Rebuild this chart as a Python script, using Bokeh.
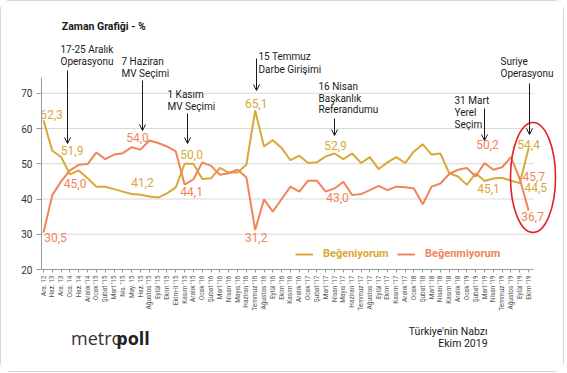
import math
from bokeh.plotting import figure
from bokeh.layouts import column
from bokeh.models import (FixedTicker, Arrow, OpenHead, Legend, LegendItem, Range1d)
from bokeh.embed import file_html
from bokeh.resources import INLINE
from bokeh.core.properties import value

# ---------------- data ----------------
months = ["Ara. 12", "Haz. 13", "Ara. 13", "Oca. 14", "Haz. 14", "Aralık '14", "Ocak '15",
          "Şubat '15", "Mart '15", "Nis. '15", "May. 15", "Haz. 15", "Ağustos '15", "Eylül '15",
          "Ekim '15", "Ekim-II '15", "Kasım '15", "Aralık '15", "Ocak '16", "Şubat '16",
          "Mart '16", "Nisan '16", "Mayıs '16", "Haziran '16", "Temmuz '16", "Ağustos '16",
          "Eylül '16", "Ekim '16", "Kasım '16", "Aralık '16", "Ocak '17", "Şubat '17", "Mart '17",
          "Nisan '17", "Mayıs '17", "Haziran '17", "Temmuz '17", "Ağustos '17", "Eylül '17",
          "Ekim '17", "Kasım '17", "Aralık '17", "Ocak '18", "Şubat '18", "Mart '18", "Nisan '18",
          "Kasım '18", "Aralık '18", "Ocak '19", "Şubat '19", "Mart '19", "Nisan '19",
          "Temmuz '19", "Ağustos '19", "Eylül '19", "Ekim '19"]

begeniyorum = [62.3, 53.7, 51.9, 47.0, 48.1, 45.9, 43.5, 43.5, 42.8, 42.1, 41.4, 41.2, 40.7, 40.4,
               41.6, 43.3, 50.0, 50.0, 45.7, 45.9, 48.8, 47.5, 47.5, 49.7, 65.1, 54.9, 56.7, 54.5,
               51.0, 52.3, 50.2, 50.4, 52.1, 52.9, 51.3, 52.9, 50.2, 51.9, 48.5, 50.4, 51.9, 50.2,
               53.5, 55.5, 52.6, 52.9, 47.3, 46.4, 44.0, 47.3, 45.1, 45.8, 46.0, 45.2, 44.5, 54.4]

begenmiyorum = [30.5, 41.1, 45.0, 48.1, 49.7, 49.9, 53.2, 51.3, 52.6, 53.0, 54.7, 54.0, 56.6, 55.9,
                54.9, 53.5, 44.1, 45.6, 50.4, 49.4, 46.9, 47.3, 48.3, 46.2, 31.2, 39.9, 36.4, 40.0,
                43.5, 42.1, 45.2, 45.2, 42.1, 43.0, 44.9, 41.1, 41.4, 42.5, 43.7, 42.5, 43.5, 43.3,
                43.0, 38.5, 43.5, 44.4, 47.1, 48.3, 48.8, 46.4, 50.2, 48.3, 49.0, 51.9, 45.7, 36.7]

gold_labeled = [0, 2, 11, 16, 24, 33, 50, 54, 55]
orange_labeled = [0, 2, 11, 16, 24, 33, 50, 54, 55]

events = [
    ["17-25 Aralık", "Operasyonu"],
    ["7 Haziran", "MV Seçimi"],
    ["1 Kasım", "MV Seçimi"],
    ["15 Temmuz", "Darbe Girişimi"],
    ["16 Nisan", "Başkanlık", "Referandumu"],
    ["31 Mart", "Yerel", "Seçim"],
    ["Suriye", "Operasyonu"],
]

y_ticks = [20, 30, 40, 50, 60, 70]

# ---------------- style / layout ----------------
GOLD = "#D8A935"
ORANGE = "#F0855A"
RED = "#E3202A"
FONT = "Roboto"

W = 562                     # inner width (1px card border around)
H_HEAD, H_MAIN, H_FOOT = 37, 284, 49
X0_PX, DX_PX = 43.0, 8.82      # page px of first category, px per category
Y20_PX, DY_PX = 269.0, 3.525   # page px of value 20, px per unit


def dx(px):
    return (px - X0_PX) / DX_PX


def dy(py):
    return 20 + (Y20_PX - py) / DY_PX


def blank(h):
    f = figure(width=W, height=h, output_backend="svg", toolbar_location=None, title=None,
               x_range=Range1d(0, W), y_range=Range1d(h, 0), x_axis_type=None,
               y_axis_type=None, min_border=0)
    f.outline_line_color = None
    f.xgrid.visible = False
    f.ygrid.visible = False
    return f


# ---------------- header ----------------
head = blank(H_HEAD)
head.text(x=[22], y=[25], text=["Zaman Grafiği - %"], text_font=value(FONT),
          text_font_size="10.5px", text_font_style="bold", text_color="#1a1a1a",
          text_align="left", text_baseline="middle")

# ---------------- main chart ----------------
idx = list(range(len(months)))

p = figure(width=W, height=H_MAIN, output_backend="svg", toolbar_location=None, title=None,
           x_range=Range1d(dx(41), dx(560)), y_range=Range1d(20, dy(38)),
           min_border_left=40, min_border_right=W - 559, min_border_top=0,
           min_border_bottom=H_MAIN - 231)
p.outline_line_color = None
p.xgrid.visible = False
p.ygrid.visible = False

for t in y_ticks[1:]:
    p.segment(x0=[dx(41)], y0=[t], x1=[dx(533)], y1=[t], line_color="#d9d9d9", line_width=1)

p.xaxis.ticker = FixedTicker(ticks=idx)
p.xaxis.major_label_overrides = {i: m for i, m in enumerate(months)}
p.xaxis.major_label_orientation = math.pi / 2
p.xaxis.major_label_text_font = FONT
p.xaxis.major_label_text_font_size = "6.5px"
p.xaxis.major_label_text_color = "#555555"
p.xaxis.major_label_standoff = 3
p.xaxis.major_tick_out = 3
p.xaxis.major_tick_in = 0
p.xaxis.minor_tick_line_color = None
p.xaxis.axis_line_color = "#9a9a9a"
p.xaxis.major_tick_line_color = "#9a9a9a"
p.xaxis.bounds = (dx(41), dx(533))

p.yaxis.ticker = FixedTicker(ticks=y_ticks)
p.yaxis.major_label_text_font = FONT
p.yaxis.major_label_text_font_size = "10px"
p.yaxis.major_label_text_color = "#333333"
p.yaxis.major_label_standoff = 4
p.yaxis.major_tick_out = 5
p.yaxis.major_tick_in = 0
p.yaxis.minor_tick_line_color = None
p.yaxis.axis_line_color = "#9a9a9a"
p.yaxis.major_tick_line_color = "#9a9a9a"
p.yaxis.bounds = (20, dy(77))

r_gold = p.line(idx, begeniyorum, line_color=GOLD, line_width=2)
r_orange = p.line(idx, begenmiyorum, line_color=ORANGE, line_width=2)

# value labels (pixel offsets from the point: right, down)
gold_off = {0: (8, -6), 2: (11, -7), 11: (2, -12), 16: (7, -9), 24: (1, -7),
            33: (1, -8), 50: (4, 7), 54: (16, 4), 55: (0, -4)}
orange_off = {0: (12, 5), 2: (14, 2), 11: (-3, -12), 16: (7, 7), 24: (1, 7),
              33: (3, 9), 50: (3, -19), 54: (14, -2), 55: (4, 6)}


def fmt(v):
    return ("%.1f" % v).replace(".", ",")


for series, labeled, offs, col in [(begeniyorum, gold_labeled, gold_off, GOLD),
                                    (begenmiyorum, orange_labeled, orange_off, ORANGE)]:
    xs, ys, ts = [], [], []
    for i in labeled:
        ox, oy = offs[i]
        xs.append(i + ox / DX_PX)
        ys.append(series[i] - oy / DY_PX)
        ts.append(fmt(series[i]))
    p.text(x=xs, y=ys, text=ts, text_color=col, text_font=value(FONT),
           text_font_size="12px", text_align="center", text_baseline="middle")

ev_text_pos = [(60, 48.5), (121, 61), (167, 94), (258, 56), (318, 86), (454, 100), (500, 61)]
ev_line_gap = [12.5, 11.5, 12, 13, 11.5, 12, 11.5]
ev_arrows = [(67, 70, 143), (142, 80, 130), (187, 113, 143), (256, 58, 90),
             (334, 118, 135), (484, 108, 140), (529, 83, 134)]
for lines, (tx, ty), gap, (ax, ay0, ay1) in zip(events, ev_text_pos, ev_line_gap, ev_arrows):
    xs = [dx(tx)] * len(lines)
    ys = [dy(ty + k * gap) for k in range(len(lines))]
    p.text(x=xs, y=ys, text=lines, text_color="#1a1a1a", text_font=value(FONT),
           text_font_size="10px", text_align="left", text_baseline="middle")
    p.add_layout(Arrow(end=OpenHead(size=6, line_width=1, line_color="#1a1a1a"),
                       x_start=dx(ax), y_start=dy(ay0), x_end=dx(ax), y_end=dy(ay1),
                       line_width=1, line_color="#1a1a1a"))

p.ellipse(x=[dx(532.5)], y=[dy(177)], width=[45 / DX_PX], height=[110 / DY_PX],
          fill_color=None, line_color=RED, line_width=1.6)

for r, lab, col, loc in [(r_gold, "Beğeniyorum", GOLD, (254, 9)),
                         (r_orange, "Beğenmiyorum", ORANGE, (356, 9))]:
    lg = Legend(items=[LegendItem(label=lab, renderers=[r])], location=loc,
                orientation="horizontal", label_text_font=FONT, label_text_font_size="11px",
                label_text_font_style="bold", label_text_color=col, border_line_color=None,
                background_fill_alpha=0, padding=0, margin=0, glyph_width=18, glyph_height=12,
                label_standoff=10, spacing=0)
    p.add_layout(lg)

# ---------------- footer ----------------
foot = blank(H_FOOT)
foot.text(x=[32], y=[15], text=["metro"], text_font=value("Open Sans"), text_font_size="18px",
          text_color="#333333", text_align="left", text_baseline="middle")
foot.text(x=[81], y=[15], text=["poll"], text_font=value("Open Sans"), text_font_size="18px",
          text_font_style="bold", text_color="#222222", text_align="left", text_baseline="middle")
foot.text(x=[483, 483], y=[9, 21], text=["Türkiye'nin Nabzı", "Ekim 2019"],
          text_font=value(FONT), text_font_size="10.5px", text_color="#1a1a1a",
          text_align="right", text_baseline="middle")

layout = column(head, p, foot, spacing=0)
layout.styles = {"border": "1px solid #d3d7da", "border-radius": "10px"}

with open("out.html", "w", encoding="utf-8") as f:
    f.write(file_html(layout, INLINE))
